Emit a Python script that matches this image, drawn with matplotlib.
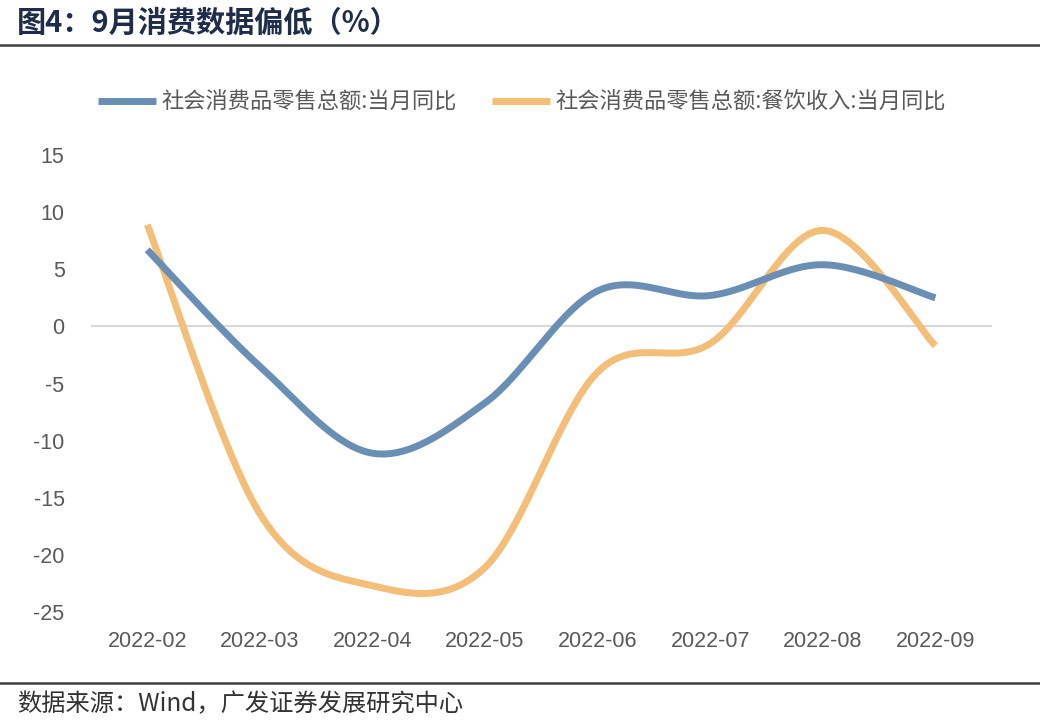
import numpy as np
import matplotlib
matplotlib.use("Agg")
import matplotlib.pyplot as plt

plt.rcParams['font.family'] = ['Noto Sans CJK SC', 'DejaVu Sans']

months = ['2022-02', '2022-03', '2022-04', '2022-05',
          '2022-06', '2022-07', '2022-08', '2022-09']
retail = [6.7, -3.5, -11.1, -6.7, 3.1, 2.7, 5.4, 2.5]
catering = [8.9, -16.4, -22.7, -21.1, -4.0, -1.5, 8.4, -1.7]

retail_label = '社会消费品零售总额:当月同比'
catering_label = '社会消费品零售总额:餐饮收入:当月同比'
title = '图4：9月消费数据偏低（%）'
source = '数据来源：Wind，广发证券发展研究中心'

BLUE = '#6B8FB4'
ORANGE = '#F2BE78'


def smooth(y, n=40):
    # Excel-like smoothed line (Catmull-Rom via cubic Bezier)
    x = np.arange(len(y), dtype=float)
    y = np.asarray(y, dtype=float)
    px = np.concatenate([[x[0]], x, [x[-1]]])
    py = np.concatenate([[y[0]], y, [y[-1]]])
    t = np.linspace(0, 1, n)
    xs, ys = [], []
    for i in range(len(y) - 1):
        p0 = np.array([px[i + 1], py[i + 1]])
        p3 = np.array([px[i + 2], py[i + 2]])
        c1 = p0 + (p3 - np.array([px[i], py[i]])) / 6
        c2 = p3 - (np.array([px[i + 3], py[i + 3]]) - p0) / 6
        b = ((1 - t) ** 3)[:, None] * p0 + (3 * (1 - t) ** 2 * t)[:, None] * c1 \
            + (3 * (1 - t) * t ** 2)[:, None] * c2 + (t ** 3)[:, None] * p3
        xs.append(b[:, 0])
        ys.append(b[:, 1])
    return np.concatenate(xs), np.concatenate(ys)


fig = plt.figure(figsize=(10.4, 7.26), dpi=100)
ax = fig.add_axes([0.0875, 0.157, 0.866, 0.6295])

ax.axhline(0, color='#D9D9D9', lw=1.5, zorder=1)

sx, sy = smooth(retail)
ax.plot(sx, sy, color=BLUE, lw=5, solid_capstyle='butt', label=retail_label, zorder=3)
sx, sy = smooth(catering)
ax.plot(sx, sy, color=ORANGE, lw=5, solid_capstyle='butt', label=catering_label, zorder=2)

ax.set_xlim(-0.5, len(months) - 0.5)
ax.set_ylim(-25, 15)
ax.set_xticks(range(len(months)))
ax.set_xticklabels(months, fontsize=15.5, color='#595959', family=['Liberation Sans'])
ax.set_yticks(range(-25, 16, 5))
ax.set_yticklabels([str(v) for v in range(-25, 16, 5)], fontsize=15.5,
                   color='#595959', family=['Liberation Sans'])
ax.tick_params(axis='x', length=0, pad=14)
ax.tick_params(axis='y', length=0, pad=19)
for s in ax.spines.values():
    s.set_visible(False)

leg = ax.legend(loc='center', bbox_to_anchor=(0.502, 0.8595),
                bbox_transform=fig.transFigure, ncol=2, frameon=False,
                fontsize=16, handlelength=2.6, handletextpad=0.25,
                columnspacing=1.6, labelcolor='#595959')

fig.text(0.016, 0.968, title, fontsize=21, fontweight='bold',
         color='#1F2D4A', va='center', ha='left')
fig.add_artist(plt.Line2D([0, 1], [0.938, 0.938], color='#404040', lw=1.8))
fig.add_artist(plt.Line2D([0, 1], [0.059, 0.059], color='#404040', lw=1.8))
fig.text(0.016, 0.03, source, fontsize=17.5, color='#333333',
         va='center', ha='left')

fig.savefig('out.png', dpi=100)
